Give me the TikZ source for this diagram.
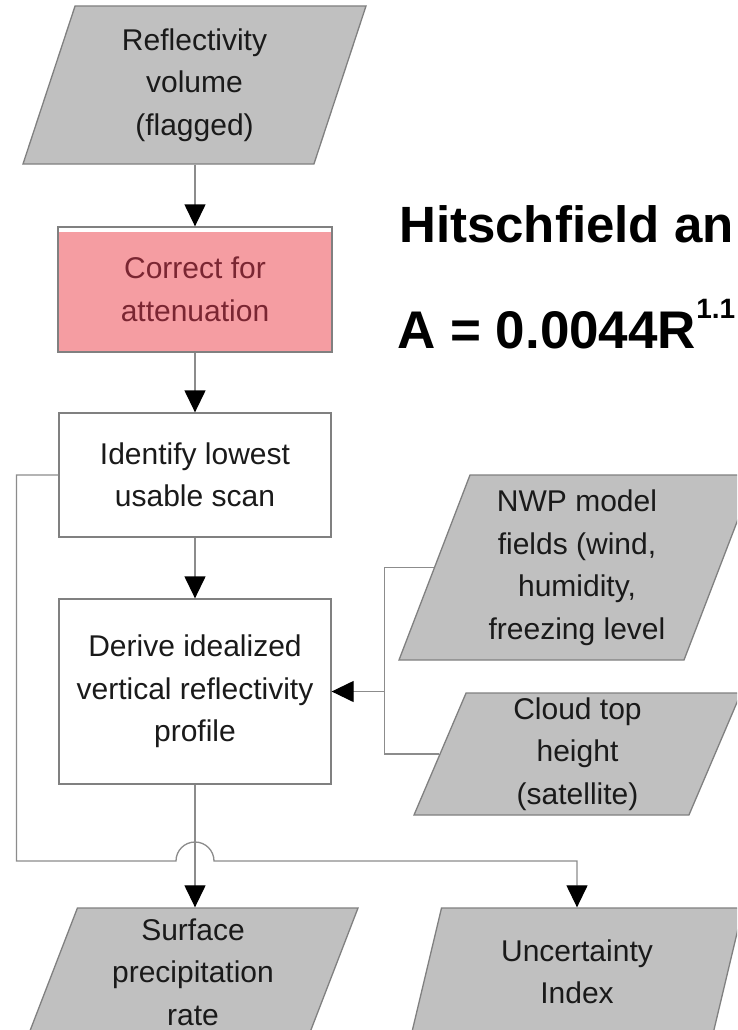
\documentclass[tikz,border=0pt]{standalone}
\usepackage{fontspec}
\setmainfont{Liberation Sans}
\usetikzlibrary{shapes.geometric,arrows.meta,calc}
\definecolor{boxgray}{HTML}{C0C0C0}
\definecolor{edgegray}{HTML}{808080}
\definecolor{linegray}{HTML}{8C8C8C}
\definecolor{pinkfill}{HTML}{F59DA2}
\definecolor{pinktext}{HTML}{7A2632}
\definecolor{pinkedge}{HTML}{C47A82}
\definecolor{inktext}{HTML}{1A1A1A}
\begin{document}
\begin{tikzpicture}[x=1pt,y=-1pt,
  every node/.style={font=\fontsize{30}{42.5}\selectfont, align=center, inner sep=2pt, text=inktext},
  procbox/.style={rectangle, draw=edgegray, line width=1.3pt, fill=white,
    minimum width=272pt},
  iobox/.style={trapezium, trapezium left angle=66, trapezium right angle=114,
    trapezium stretches body, draw=edgegray, line width=1.3pt, fill=boxgray},
  flow/.style={draw=linegray, line width=1.3pt},
  arrowflow/.style={flow, -{Triangle[width=21pt,length=22pt,color=black]}},
  headline/.style={anchor=base west, inner sep=0pt, text=black,
    font=\fontsize{51}{60}\selectfont\bfseries}
]
\useasboundingbox (0,0) rectangle (737,1030);
\fill[white] (0,0) rectangle (737,1030);
\clip (0,0) rectangle (737,1030);

% main chain
\node[iobox, minimum height=158pt, minimum width=343pt] (refl) at (194.5,85)
  {Reflectivity\\volume\\(flagged)};
\node[procbox, minimum width=274pt, minimum height=125pt, fill=pinkfill, text=pinktext,
  path picture={
    \fill[white] (path picture bounding box.north west) rectangle
      ([yshift=-5pt]path picture bounding box.north east);
    \draw[pinkedge, line width=3pt] (path picture bounding box.south west) --
      (path picture bounding box.south east);}] (pink) at (195,289.5)
  {Correct for\\attenuation};
\node[procbox, minimum height=124pt] (ident) at (195,475)
  {Identify lowest\\usable scan};
\node[procbox, minimum height=185pt] (derive) at (195,691.5)
  {Derive idealized\\vertical reflectivity\\profile};

% ancillary inputs
\node[iobox, minimum height=185pt, minimum width=356pt] (nwp) at (577,567.5)
  {NWP model\\fields (wind,\\humidity,\\freezing level};
\node[iobox, minimum height=122pt, minimum width=327pt] (cloud) at (577.5,754)
  {Cloud top\\height\\(satellite)};

% outputs
\node[iobox, minimum height=128pt, minimum width=330pt] (surf) at (193,972)
  {Surface\\precipitation\\rate};
\node[iobox, minimum height=128pt, minimum width=332pt] (unc) at (577,972)
  {Uncertainty\\Index};

% formula
\node[headline] (title) at (399,242) {Hitschfield an};
\node[headline, font=\fontsize{53}{60}\selectfont\bfseries] (eqn) at (397,348)
  {A = 0.0044R\raisebox{30pt}{\fontsize{28}{30}\selectfont 1.1}};

% connectors
\draw[arrowflow] (pink.north |- refl.south) -- (pink.north);
\draw[arrowflow] (pink.south) -- (ident.north);
\draw[arrowflow] (ident.south) -- (derive.north);
\draw[arrowflow] (derive.south) -- (derive.south |- surf.north);

\draw[flow] (nwp.west) -- ++(-49.5,0) coordinate (brk) |- (cloud.west);
\draw[arrowflow] (brk |- derive.east) -- (derive.east);

\coordinate (fbcorner) at (16.5,861);
\coordinate (cross) at (derive.south |- fbcorner);
\draw[arrowflow] (ident.west) -| (fbcorner) -- ([xshift=-19pt]cross)
  .. controls +(0,-10.5) and +(-10.5,0) .. ([yshift=19pt]cross)
  .. controls +(10.5,0) and +(0,-10.5) .. ([xshift=19pt]cross)
  -| (unc.center |- unc.north);
\end{tikzpicture}
\end{document}
